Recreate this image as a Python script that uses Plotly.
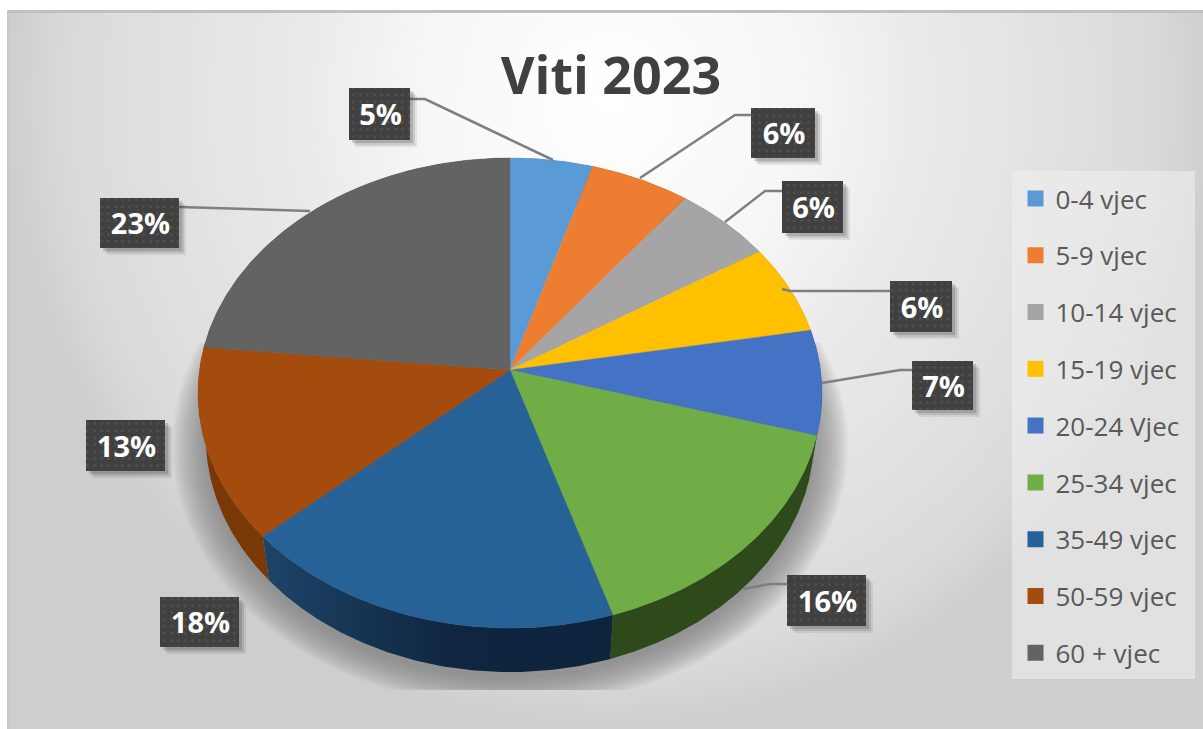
import numpy as np
import plotly.graph_objects as go

# ---- data ----
categories = ["0-4 vjec", "5-9 vjec", "10-14 vjec", "15-19 vjec", "20-24 Vjec",
              "25-34 vjec", "35-49 vjec", "50-59 vjec", "60 + vjec"]
values = [4.7, 5.7, 5.6, 6.2, 7.2, 15.7, 18.2, 13.2, 23.4]
title_text = "Viti 2023"

# ---- style ----
top_colors = ["#5B9BD5", "#ED7D31", "#A5A5A5", "#FFC000", "#4472C4",
              "#70AD47", "#266198", "#A34C0E", "#636363"]
side_colors = ["#2F5F8C", "#8A4510", "#606060", "#8F6C00", "#26457A",
               "#2E4A1B", "#16385A", "#7A3807", "#3C3C3C"]
CX, CY = 510, 370          # pie apex on the page
A, C, K = 232.8, 310.5, 0.0979   # tilted-disc projection
DEPTH, SHRINK = 44, 0.975
box_rects = [(349, 410, 88, 140), (751, 815, 108, 158), (782, 843, 181, 233),
             (890, 952, 281, 332), (912, 973, 361, 410), (787, 866, 575, 626),
             (160, 239, 597, 647), (86, 165, 420, 471), (100, 179, 198, 248)]
leaders = [[(410, 99), (425, 99), (553, 160)],
           [(751, 115), (735, 115), (640, 178)],
           [(782, 191), (765, 191), (725, 222)],
           [(890, 291), (790, 291), (782, 289)],
           [(912, 370), (900, 370), (822, 383)],
           [(787, 584), (770, 584), (743, 589)],
           None, None,
           [(179, 207), (310, 211)]]


def rim(theta):
    den = 1 + K * np.cos(theta)
    return C * np.sin(theta) / den, A * np.cos(theta) / den


def arc(a0, a1):
    n = max(3, int((a1 - a0) * 120))
    return np.linspace(a0, a1, n)


total = sum(values)
edges = 2 * np.pi * np.cumsum([0] + values) / total

fig = go.Figure()


def poly(xs, ys, **kw):
    kw.setdefault("line", dict(width=0))
    fig.add_trace(go.Scatter(x=xs, y=ys, mode="lines", fill="toself",
                             hoverinfo="skip", showlegend=False, **kw))


# background
poly([7, 1213, 1213, 7, 7], [-530, -530, 730, 730, -530],
     fillgradient=dict(type="radial",
                       colorscale=[[0, "#ffffff"], [0.3, "#f7f7f7"], [0.5, "#ebebeb"],
                                   [0.9, "#dadada"], [1, "#cecece"]]))
poly([0, 7, 7, 0, 0], [0, 0, 729, 729, 0], fillcolor="#ffffff")
poly([0, 1203, 1203, 0, 0], [0, 0, 10, 10, 0], fillcolor="#ffffff")
poly([7, 1203, 1203, 7, 7], [10, 10, 13, 13, 10], fillcolor="#c0c0c0")
poly([7, 9, 9, 7, 7], [10, 10, 729, 729, 10], fillcolor="#c8c8c8")

# soft shadow beneath the disc
th = np.linspace(np.radians(72), np.radians(288), 240)
X, Y = rim(th)
for s in np.linspace(1.11, 1.0, 16):
    xs = CX + X * SHRINK * s
    ys = np.minimum(CY - Y * s + DEPTH + 6, 690)
    poly(np.r_[CX, xs, CX], np.r_[CY, ys, CY], fillcolor="rgba(120,120,120,0.065)")

# side wall
for i, (a0, a1) in enumerate(zip(edges[:-1], edges[1:])):
    t = arc(a0, a1)
    X, Y = rim(t)
    xs = np.r_[CX + X, (CX + X * SHRINK)[::-1]]
    ys = np.r_[CY - Y, (CY - Y + DEPTH)[::-1]]
    xs, ys = np.r_[xs, xs[0]], np.r_[ys, ys[0]]
    if i == 6:
        poly(xs, ys, fillgradient=dict(type="horizontal",
                                       colorscale=[[0, "#1D4468"], [0.55, "#0F2540"], [1, "#0E233C"]]))
    else:
        poly(xs, ys, fillcolor=side_colors[i])

# top face
for i, (a0, a1) in enumerate(zip(edges[:-1], edges[1:])):
    X, Y = rim(arc(a0, a1))
    poly(np.r_[CX, CX + X, CX], np.r_[CY, CY - Y, CY],
         fillcolor=top_colors[i], line=dict(width=0.4, color=top_colors[i]))

# leader lines
for pts in leaders:
    if pts:
        fig.add_trace(go.Scatter(x=[p[0] for p in pts], y=[p[1] for p in pts], mode="lines",
                                 line=dict(color="#7f7f7f", width=2.5), hoverinfo="skip",
                                 showlegend=False))

# data labels
for (x0, x1, y0, y1), v in zip(box_rects, values):
    for d, op in ((7, 0.10), (5, 0.14), (3, 0.2)):
        poly([x0 + d, x1 + d, x1 + d, x0 + d, x0 + d], [y0 + d, y0 + d, y1 + d, y1 + d, y0 + d],
             fillcolor=f"rgba(60,60,60,{op})")
    poly([x0, x1, x1, x0, x0], [y0, y0, y1, y1, y0], fillcolor="#404040",
         fillpattern=dict(shape=".", fgcolor="#5c5c5c", bgcolor="#404040", size=7, solidity=0.15))
fig.add_trace(go.Scatter(
    x=[(b[0] + b[1]) / 2 + 1 for b in box_rects], y=[(b[2] + b[3]) / 2 + 4 for b in box_rects],
    text=[f"{round(v)}%" for v in values], mode="text", hoverinfo="skip", showlegend=False,
    textposition="middle center",
    textfont=dict(family="Open Sans", size=29, color="#ffffff", weight=700)))

# legend panel and entries
poly([1012, 1195, 1195, 1012, 1012], [171, 171, 679, 679, 171], fillcolor="rgba(240,240,240,0.55)")
for i, name in enumerate(categories):
    fig.add_trace(go.Scatter(x=[None], y=[None], mode="markers", name=name, legendgroup=name,
                             marker=dict(symbol="square", size=18, color=top_colors[i])))

fig.update_layout(
    width=1203, height=729, margin=dict(l=0, r=0, t=0, b=0),
    paper_bgcolor="#ffffff", plot_bgcolor="rgba(0,0,0,0)",
    xaxis=dict(range=[0, 1203], visible=False, fixedrange=True),
    yaxis=dict(range=[729, 0], visible=False, fixedrange=True),
    title=dict(text=title_text, x=611 / 1203, y=1 - 76 / 729, xanchor="center", yanchor="middle",
               font=dict(family="Open Sans", size=52, color="#404040", weight=700)),
    legend=dict(x=1015.5 / 1203, y=1 - 175 / 729, xanchor="left", yanchor="top",
                bgcolor="rgba(0,0,0,0)", borderwidth=0, tracegroupgap=20, itemwidth=30,
                font=dict(family="Open Sans", size=26, color="#595959")),
)
fig.write_html("out.html", config={"displayModeBar": False},
               post_script="document.body.style.margin='0';document.body.style.overflow='hidden';")
